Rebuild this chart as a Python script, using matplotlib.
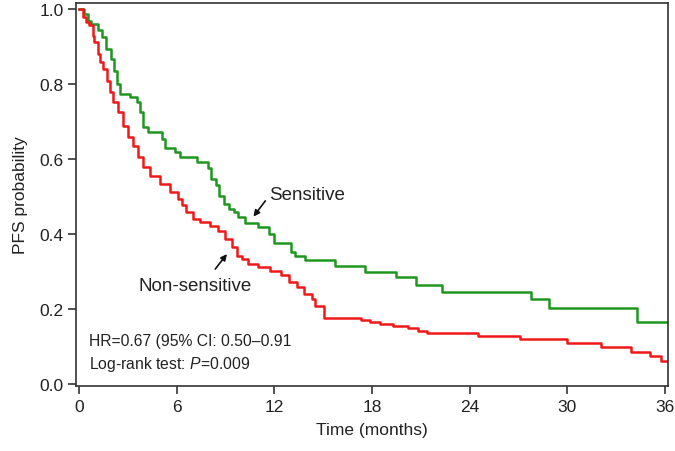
import matplotlib
matplotlib.use('Agg')
import matplotlib.pyplot as plt

# step points of the two Kaplan-Meier curves (month of drop, new PFS value)
sens_time = [0, 0.33, 0.53, 0.75, 1.2, 1.4, 1.65, 1.95, 2.15, 2.35, 2.55, 3.15,
             3.55, 3.75, 3.95, 4.25, 5.1, 5.3, 5.9, 6.2, 7.25, 7.9, 8.1, 8.4,
             8.6, 8.9, 9.2, 9.5, 9.8, 10.2, 11.0, 11.65, 12.0, 13.0, 13.3, 13.9,
             15.75, 17.6, 19.45, 20.7, 22.3, 27.75, 28.9, 34.3, 36.2]
sens_pfs = [1.0, 0.987, 0.97, 0.96, 0.945, 0.925, 0.895, 0.868, 0.836, 0.80,
            0.775, 0.766, 0.753, 0.726, 0.686, 0.673, 0.654, 0.63, 0.62, 0.606,
            0.593, 0.576, 0.547, 0.53, 0.503, 0.48, 0.467, 0.458, 0.445, 0.43,
            0.418, 0.40, 0.376, 0.352, 0.343, 0.33, 0.316, 0.30, 0.285, 0.265,
            0.246, 0.227, 0.203, 0.167, 0.167]

nons_time = [0, 0.23, 0.43, 0.64, 0.84, 0.95, 1.15, 1.3, 1.5, 1.7, 1.9, 2.1,
             2.4, 2.73, 3.04, 3.35, 3.65, 3.96, 4.37, 4.98, 5.6, 6.1, 6.3, 6.6,
             7.0, 7.45, 8.06, 8.57, 9.0, 9.4, 9.7, 10.0, 10.4, 11.0, 11.75,
             12.4, 12.9, 13.4, 13.8, 14.3, 14.5, 15.03, 17.3, 17.9, 18.5, 19.3,
             20.2, 20.8, 21.4, 24.5, 27.1, 30.0, 32.06, 33.9, 35.1, 35.75, 36.2]
nons_pfs = [1.0, 0.979, 0.966, 0.957, 0.93, 0.912, 0.88, 0.86, 0.84, 0.81,
            0.78, 0.753, 0.726, 0.69, 0.66, 0.636, 0.606, 0.58, 0.555, 0.534,
            0.512, 0.494, 0.478, 0.459, 0.44, 0.432, 0.423, 0.409, 0.387, 0.365,
            0.343, 0.334, 0.32, 0.312, 0.303, 0.29, 0.272, 0.258, 0.24, 0.227,
            0.209, 0.176, 0.172, 0.167, 0.16, 0.154, 0.149, 0.142, 0.136, 0.129,
            0.12, 0.109, 0.098, 0.086, 0.076, 0.062, 0.062]

x_ticks = [0, 6, 12, 18, 24, 30, 36]
y_ticks = [0.0, 0.2, 0.4, 0.6, 0.8, 1.0]

hr_text = 'HR=0.67 (95% CI: 0.50\u20130.91'
logrank_text = 'Log-rank test: $\\mathit{P}$=0.009'

plt.rcParams['font.family'] = ['Liberation Sans', 'DejaVu Sans']
plt.rcParams['mathtext.fontset'] = 'custom'
plt.rcParams['mathtext.it'] = 'Liberation Sans:italic'
plt.rcParams['mathtext.rm'] = 'Liberation Sans'

fig = plt.figure(figsize=(6.75, 4.52), dpi=100)
ax = fig.add_axes([0.1126, 0.1438, 0.877, 0.8474])

# the two survival curves
ax.step(sens_time, sens_pfs, where='post', color='#1f961f', lw=1.8)
ax.step(nons_time, nons_pfs, where='post', color='#f01818', lw=1.8)

ax.set_xlim(-0.18, 36.18)
ax.set_ylim(-0.005, 1.017)
ax.set_xticks(x_ticks)
ax.set_xticklabels([str(t) for t in x_ticks])
ax.set_yticks(y_ticks)
ax.set_yticklabels(['%.1f' % t for t in y_ticks])
ax.tick_params(direction='out', length=6, width=1.1, labelsize=12.5, pad=3,
               color='#222222', labelcolor='#222222')
for sp in ax.spines.values():
    sp.set_linewidth(1.2)
    sp.set_color('#333333')

ax.set_xlabel('Time (months)', fontsize=12.5, color='#222222', labelpad=6)
ax.set_ylabel('PFS probability', fontsize=12.5, color='#222222', labelpad=8)

# curve labels with arrows
ax.annotate('', xy=(10.72, 0.447), xytext=(11.45, 0.489),
            arrowprops=dict(arrowstyle='-|>', color='#111111', lw=1.2,
                            mutation_scale=9, shrinkA=0, shrinkB=0))
ax.text(11.7, 0.505, 'Sensitive', fontsize=13.5, color='#222222', va='center')
ax.annotate('', xy=(9.09, 0.347), xytext=(8.37, 0.307),
            arrowprops=dict(arrowstyle='-|>', color='#111111', lw=1.2,
                            mutation_scale=9, shrinkA=0, shrinkB=0))
ax.text(3.63, 0.262, 'Non-sensitive', fontsize=13.5, color='#222222', va='center')

# statistics
ax.text(0.6, 0.116, hr_text, fontsize=11.3, color='#222222', va='center')
ax.text(0.6, 0.055, logrank_text, fontsize=11.3, color='#222222', va='center')

plt.savefig('out.png', dpi=100)
